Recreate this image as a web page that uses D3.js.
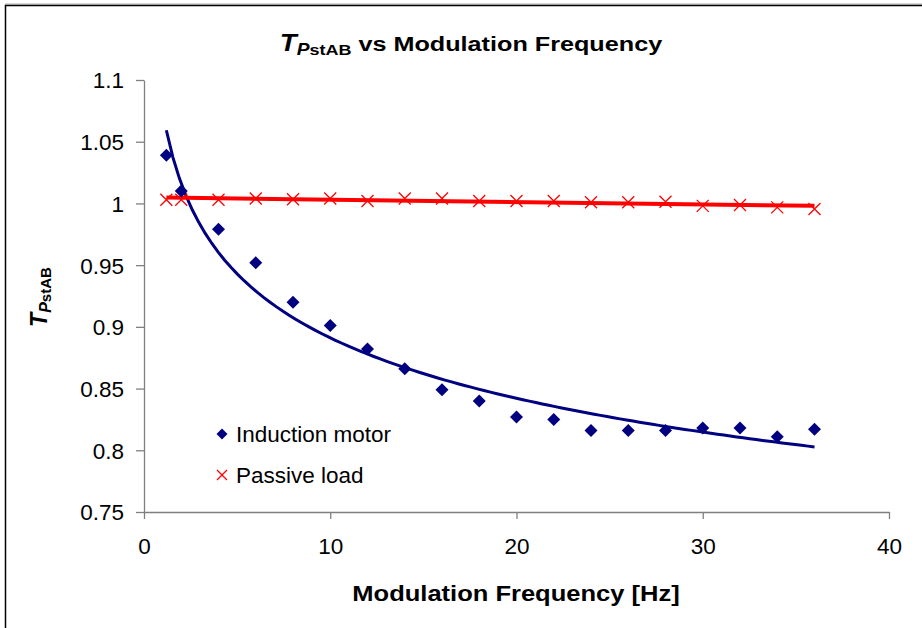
<!DOCTYPE html>
<meta charset="utf-8">
<head>
<style>
  body { margin: 0; background: #fff; }
  svg text { font-family: "Liberation Sans", Arial, sans-serif; }
</style>
</head>
<body>
<script src="https://d3js.org/d3.v7.min.js"></script>
<div id="chart"></div>
<script>

// modulation frequencies [Hz]
var freqs = [1.2, 2, 4, 6, 8, 10, 12, 14, 16, 18, 20, 22, 24, 26, 28, 30, 32, 34, 36];
// T_PstAB values
var motorVals = [1.039, 1.010, 0.979, 0.952, 0.920, 0.901, 0.882, 0.866, 0.849, 0.840,
                 0.827, 0.825, 0.816, 0.816, 0.816, 0.818, 0.818, 0.811, 0.817];
var passiveVals = [1.003, 1.003, 1.003, 1.004, 1.0034, 1.004, 1.002, 1.004, 1.004, 1.002,
                   1.002, 1.002, 1.001, 1.001, 1.0013, 0.998, 0.9987, 0.9968, 0.9955];
var xTicks = [0, 10, 20, 30, 40];
var yTicks = [0.75, 0.8, 0.85, 0.9, 0.95, 1, 1.05, 1.1];
var seriesNames = ["Induction motor", "Passive load"];

var width = 922, height = 628;

var svg = d3.select("#chart").append("svg")
  .attr("width", width)
  .attr("height", height);

// outer chart frame (right and bottom edges run off the picture)
svg.append("line").attr("x1", 5).attr("x2", width).attr("y1", 4).attr("y2", 4)
  .attr("stroke", "#aaa").attr("stroke-width", 1);
svg.append("rect")
  .attr("x", 5.5).attr("y", 5.5)
  .attr("width", 1000).attr("height", 1000)
  .attr("fill", "none").attr("stroke", "#000").attr("stroke-width", 1.5);

var x = d3.scaleLinear().domain([0, 40]).range([144, 889]);
var y = d3.scaleLinear().domain([0.75, 1.1]).range([512, 80]);

// axes
var xAxis = svg.append("g")
  .attr("transform", "translate(0," + y(0.75) + ")")
  .call(d3.axisBottom(x).tickValues(xTicks).tickSize(7).tickPadding(19).tickSizeOuter(0)
    .tickFormat(d3.format("d")));
var yAxis = svg.append("g")
  .attr("transform", "translate(" + x(0) + ",0)")
  .call(d3.axisLeft(y).tickValues(yTicks).tickSize(8).tickPadding(12).tickSizeOuter(0)
    .tickFormat(function(d) { return d3.format("")(d); }));

[xAxis, yAxis].forEach(function(ax) {
  ax.selectAll("path, line").attr("stroke", "#808080").attr("stroke-width", 1.3);
  ax.selectAll("text")
    .attr("fill", "#000")
    .style("font-family", "'Liberation Sans', Arial, sans-serif")
    .style("font-size", "22.5px");
});
yAxis.selectAll("text").attr("dy", "0.35em");

// trend lines computed from the data the way a spreadsheet does
function linFit(xs, ys) {
  var mx = d3.mean(xs), my = d3.mean(ys);
  var sxy = 0, sxx = 0;
  for (var i = 0; i < xs.length; i++) {
    sxy += (xs[i] - mx) * (ys[i] - my);
    sxx += (xs[i] - mx) * (xs[i] - mx);
  }
  var b = sxy / sxx;
  return { a: my - b * mx, b: b };
}
var pw = linFit(freqs.map(Math.log), motorVals.map(Math.log));
var ln = linFit(freqs, passiveVals);

var xMin = d3.min(freqs), xMax = d3.max(freqs);
var fitX = d3.range(0, 101).map(function(i) { return xMin + (xMax - xMin) * i / 100; });

var line = d3.line()
  .x(function(d) { return x(d[0]); })
  .y(function(d) { return y(d[1]); });

svg.append("path")
  .datum(fitX.map(function(f) { return [f, Math.exp(pw.a) * Math.pow(f, pw.b)]; }))
  .attr("d", line)
  .attr("fill", "none").attr("stroke", "#000080").attr("stroke-width", 3);

svg.append("path")
  .datum([xMin, xMax].map(function(f) { return [f, ln.a + ln.b * f]; }))
  .attr("d", line)
  .attr("fill", "none").attr("stroke", "#ff0000").attr("stroke-width", 4);

// markers
var diamond = "M0,-6.5L6.5,0L0,6.5L-6.5,0Z";
var cross = "M-6,-6L6,6M-6,6L6,-6";

svg.selectAll(".motor")
  .data(freqs.map(function(f, i) { return [f, motorVals[i]]; }))
  .enter().append("path")
  .attr("class", "motor")
  .attr("d", diamond)
  .attr("transform", function(d) { return "translate(" + x(d[0]) + "," + y(d[1]) + ")"; })
  .attr("fill", "#000080");

svg.selectAll(".passive")
  .data(freqs.map(function(f, i) { return [f, passiveVals[i]]; }))
  .enter().append("path")
  .attr("class", "passive")
  .attr("d", cross)
  .attr("transform", function(d) { return "translate(" + x(d[0]) + "," + y(d[1]) + ")"; })
  .attr("fill", "none").attr("stroke", "#ff0000").attr("stroke-width", 1.3);

// legend
var legend = svg.append("g").attr("transform", "translate(222,434)");
legend.append("path").attr("d", "M0,-5.5L5.5,0L0,5.5L-5.5,0Z").attr("fill", "#000080");
legend.append("path").attr("d", "M-5,-5L5,5M-5,5L5,-5").attr("transform", "translate(0,41)")
  .attr("fill", "none").attr("stroke", "#ff0000").attr("stroke-width", 1.3);
legend.selectAll("text")
  .data(seriesNames)
  .enter().append("text")
  .attr("x", 14)
  .attr("y", function(d, i) { return i * 41 + 8; })
  .style("font-size", "22.5px")
  .text(function(d) { return d; });

// title
var title = svg.append("text")
  .attr("transform", "translate(471,51) scale(1.2,1)")
  .attr("text-anchor", "middle")
  .style("font-size", "21px").style("font-weight", "bold");
title.append("tspan").style("font-style", "italic").style("font-size", "23px").text("T");
title.append("tspan").attr("dy", 4).style("font-style", "italic").style("font-size", "16px").text("P");
title.append("tspan").style("font-size", "15px").text("stAB");
title.append("tspan").attr("dy", -4).text(" vs Modulation Frequency");

// y label
var yl = svg.append("text")
  .attr("transform", "translate(47,297) rotate(-90)")
  .attr("text-anchor", "middle")
  .style("font-size", "23px").style("font-weight", "bold");
yl.append("tspan").style("font-style", "italic").text("T");
yl.append("tspan").attr("dy", 4).style("font-style", "italic").style("font-size", "16px").text("P");
yl.append("tspan").style("font-size", "15px").text("stAB");

// x label
svg.append("text")
  .attr("transform", "translate(516,601) scale(1.16,1)")
  .attr("text-anchor", "middle")
  .style("font-size", "22px").style("font-weight", "bold")
  .text("Modulation Frequency [Hz]");

</script>
</body>
